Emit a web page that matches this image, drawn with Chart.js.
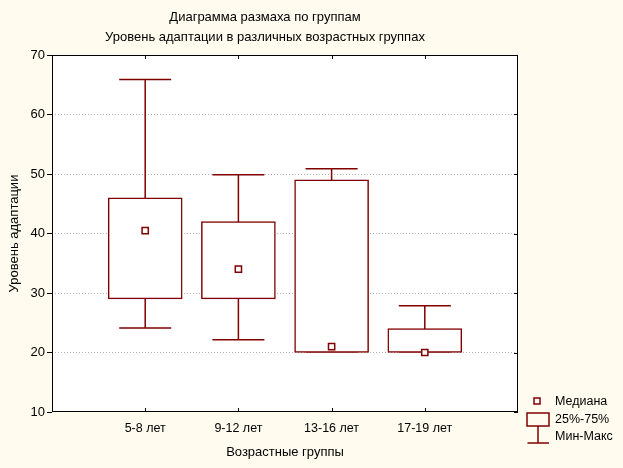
<!DOCTYPE html>
<html>
<head>
<meta charset="utf-8">
<script src="https://cdn.jsdelivr.net/npm/chart.js@4/dist/chart.umd.min.js"></script>
<style>
  html, body { margin: 0; padding: 0; background: #fffbef; }
  canvas { display: block; }
</style>
</head>
<body>
<canvas id="c" width="623" height="468"></canvas>
<script>
// ---------------------------------------------------------------------------
// Data
// ---------------------------------------------------------------------------
const groups  = ['5-8 лет', '9-12 лет', '13-16 лет', '17-19 лет'];
const mins    = [24, 22, 20, 20];
const q1s     = [29, 29, 20, 20];
const medians = [40.5, 34, 21, 20];
const q3s     = [46, 42, 49, 24];
const maxs    = [66, 50, 51, 28];
const yTicks  = [10, 20, 30, 40, 50, 60, 70];

const RED  = '#800000';
const LW   = 1.5;
const FONT = "'Liberation Sans', Arial, sans-serif";

Chart.defaults.font.family = FONT;
Chart.defaults.font.size = 12;
Chart.defaults.color = '#000';

// ---------------------------------------------------------------------------
// Plugins: plot background, whiskers, frame + inner ticks, titles, legend
// ---------------------------------------------------------------------------
const backdrop = {
  id: 'backdrop',
  beforeDraw(chart) {
    const { ctx, chartArea: a } = chart;
    ctx.save();
    ctx.fillStyle = '#fffbef';
    ctx.fillRect(0, 0, chart.width, chart.height);
    ctx.fillStyle = '#fff';
    ctx.fillRect(a.left, a.top, a.right - a.left, a.bottom - a.top);
    ctx.restore();
  },
};

// whiskers go under the boxes; caps sit inside the value line like bar borders do
const whiskers = {
  id: 'whiskers',
  beforeDatasetsDraw(chart) {
    const { ctx, scales: { x, y } } = chart;
    const capHalf = 26;
    ctx.save();
    ctx.strokeStyle = RED;
    ctx.lineWidth = LW;
    groups.forEach((g, i) => {
      const px = x.getPixelForValue(i + 1);
      const yMin = y.getPixelForValue(mins[i]) - LW / 2;
      const yMax = y.getPixelForValue(maxs[i]) + LW / 2;
      ctx.beginPath();
      ctx.moveTo(px, yMin); ctx.lineTo(px, yMax);
      ctx.moveTo(px - capHalf, yMin); ctx.lineTo(px + capHalf, yMin);
      ctx.moveTo(px - capHalf, yMax); ctx.lineTo(px + capHalf, yMax);
      ctx.stroke();
    });
    ctx.restore();
  },
};

const frame = {
  id: 'frame',
  afterDraw(chart) {
    const { ctx, chartArea: a, scales: { x, y } } = chart;
    ctx.save();
    ctx.strokeStyle = '#000';
    ctx.lineWidth = 1;
    ctx.strokeRect(a.left + 0.5, a.top + 0.5, a.right - a.left - 1, a.bottom - a.top - 1);
    ctx.beginPath();
    groups.forEach((g, i) => {
      const px = Math.round(x.getPixelForValue(i + 1)) + 0.5;
      ctx.moveTo(px, a.top); ctx.lineTo(px, a.top + 4);
      ctx.moveTo(px, a.bottom); ctx.lineTo(px, a.bottom - 4);
    });
    yTicks.forEach(v => {
      const py = Math.round(y.getPixelForValue(v)) + 0.5;
      ctx.moveTo(a.right, py); ctx.lineTo(a.right - 4, py);
    });
    ctx.stroke();
    ctx.restore();
  },
};

const titles = {
  id: 'titles',
  afterDraw(chart) {
    const { ctx } = chart;
    ctx.save();
    ctx.fillStyle = '#000';
    ctx.font = '13px ' + FONT;
    ctx.textAlign = 'center';
    ctx.textBaseline = 'middle';
    ctx.fillText('Диаграмма размаха по группам', 265, 17);
    ctx.fillText('Уровень адаптации в различных возрастных группах', 265, 37);
    ctx.restore();
  },
};

const boxLegend = {
  id: 'boxLegend',
  afterDraw(chart) {
    const { ctx } = chart;
    ctx.save();
    ctx.strokeStyle = RED;
    ctx.lineWidth = LW;
    // median marker
    ctx.fillStyle = '#fff';
    ctx.fillRect(534, 398, 6, 6);
    ctx.strokeRect(534, 398, 6, 6);
    // box
    ctx.strokeRect(527, 413, 22, 13);
    // min-max
    ctx.beginPath();
    ctx.moveTo(538, 426); ctx.lineTo(538, 443);
    ctx.moveTo(527.5, 443); ctx.lineTo(549, 443);
    ctx.stroke();
    ctx.fillStyle = '#000';
    ctx.font = '12.5px ' + FONT;
    ctx.textBaseline = 'middle';
    ctx.fillText('Медиана', 555, 402);
    ctx.fillText('25%-75%', 555, 420);
    ctx.fillText('Мин-Макс', 555, 437);
    ctx.restore();
  },
};

// ---------------------------------------------------------------------------
// Chart
// ---------------------------------------------------------------------------
new Chart(document.getElementById('c'), {
  type: 'bar',
  data: {
    datasets: [
      {
        type: 'bar',
        label: '25%-75%',
        data: groups.map((g, i) => ({ x: i + 1, y: [q1s[i], q3s[i]] })),
        backgroundColor: '#fff',
        borderColor: RED,
        borderWidth: LW,
        borderSkipped: false,
        barThickness: 74,
        order: 2,
      },
      {
        type: 'scatter',
        label: 'Медиана',
        data: groups.map((g, i) => ({ x: i + 1, y: medians[i] })),
        pointStyle: 'rect',
        pointRadius: 4.4,
        backgroundColor: '#fff',
        borderColor: RED,
        borderWidth: LW,
        order: 1,
      },
    ],
  },
  options: {
    responsive: false,
    animation: false,
    layout: { padding: { top: 55, right: 105, left: 0, bottom: 0 } },
    plugins: {
      legend: { display: false },
      tooltip: { enabled: false },
    },
    scales: {
      x: {
        type: 'linear',
        min: 0,
        max: 5,
        offset: false,
        afterBuildTicks: s => { s.ticks = groups.map((g, i) => ({ value: i + 1 })); },
        afterFit: s => { s.height = 56; },
        grid: { display: false, drawTicks: false, offset: false },
        border: { display: false },
        ticks: {
          padding: 9,
          maxRotation: 0,
          font: { size: 12.5 },
          callback: v => groups[v - 1],
        },
        title: {
          display: true,
          text: 'Возрастные группы',
          font: { size: 13 },
          padding: { top: 0, bottom: 8 },
        },
      },
      y: {
        min: 10,
        max: 70,
        afterBuildTicks: s => { s.ticks = yTicks.map(v => ({ value: v })); },
        afterFit: s => { s.width = 52; },
        grid: {
          color: c => (c.tick && (c.tick.value === 10 || c.tick.value === 70)) ? 'rgba(0,0,0,0)' : '#b4b4b4',
          tickColor: '#000',
          tickLength: 5,
        },
        border: { display: false, dash: [1, 2] },
        ticks: { padding: 2, font: { size: 13 } },
        title: {
          display: true,
          text: 'Уровень адаптации',
          font: { size: 13 },
          padding: { top: 7, bottom: 0 },
        },
      },
    },
  },
  plugins: [backdrop, whiskers, frame, titles, boxLegend],
});
</script>
</body>
</html>
